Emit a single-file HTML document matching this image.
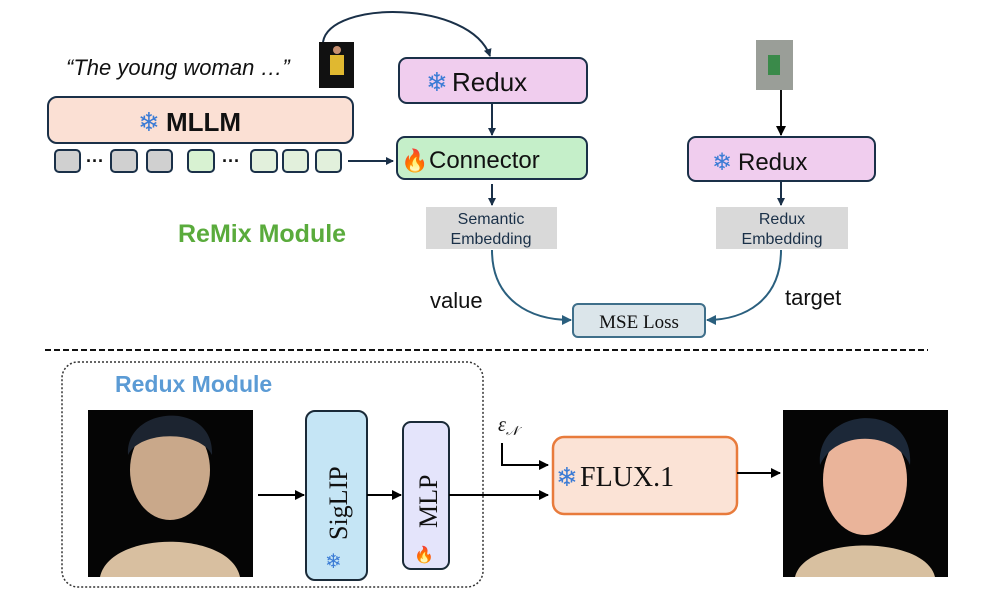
<!DOCTYPE html>
<html><head><style>body{margin:0;background:#fff}svg{display:block}</style></head><body>
<svg width="996" height="598" viewBox="0 0 996 598" xmlns="http://www.w3.org/2000/svg" font-family="Liberation Sans, sans-serif">
<defs>
<marker id="a" markerWidth="8" markerHeight="8" refX="7" refY="4" orient="auto" markerUnits="userSpaceOnUse"><path d="M0,0 L8,4 L0,8 z" fill="#1a3048"/></marker>
<marker id="b" markerWidth="10" markerHeight="10" refX="9" refY="5" orient="auto" markerUnits="userSpaceOnUse"><path d="M0,0 L10,5 L0,10 z" fill="#000"/></marker>
<marker id="c" markerWidth="10" markerHeight="10" refX="9" refY="5" orient="auto" markerUnits="userSpaceOnUse"><path d="M0,0 L10,5 L0,10 z" fill="#2a5f7e"/></marker>
</defs>
<text x="66" y="75" font-size="22" font-style="italic" fill="#111">“The young woman …”</text>
<rect x="319" y="42" width="35" height="46" fill="#111"/><rect x="330" y="55" width="14" height="20" fill="#e0b830"/><circle cx="337" cy="50" r="4" fill="#c89070"/>
<path d="M323,42 C330,0 470,0 490,56" fill="none" stroke="#1a3048" stroke-width="2" marker-end="url(#a)"/>
<rect x="399" y="58" width="188" height="45" rx="8" fill="#f0cdee" stroke="#1a3048" stroke-width="2"/>
<text x="426" y="91" font-size="26" fill="#3a7bd5">❄</text><text x="452" y="91" font-size="26" fill="#111">Redux</text>
<rect x="48" y="97" width="305" height="46" rx="9" fill="#fbe0d4" stroke="#1a3048" stroke-width="2"/>
<text x="138" y="131" font-size="26" fill="#3a7bd5">❄</text><text x="166" y="131" font-size="26" font-weight="bold" fill="#111">MLLM</text>
<g stroke="#1a3048" stroke-width="2">
<rect x="55" y="150" width="25" height="22" rx="4" fill="#d0d0d0"/><rect x="111" y="150" width="26" height="22" rx="4" fill="#d0d0d0"/><rect x="147" y="150" width="25" height="22" rx="4" fill="#d0d0d0"/>
<rect x="188" y="150" width="26" height="22" rx="4" fill="#d8f2d2"/><rect x="251" y="150" width="26" height="22" rx="4" fill="#e2f0dc"/><rect x="283" y="150" width="25" height="22" rx="4" fill="#e2f0dc"/><rect x="316" y="150" width="25" height="22" rx="4" fill="#e2f0dc"/>
</g>
<text x="86" y="167" font-size="18" font-weight="bold" fill="#111">···</text><text x="222" y="167" font-size="18" font-weight="bold" fill="#111">···</text>
<line x1="348" y1="161" x2="393" y2="161" stroke="#1a3048" stroke-width="2" marker-end="url(#a)"/>
<line x1="492" y1="103" x2="492" y2="135" stroke="#1a3048" stroke-width="2" marker-end="url(#a)"/>
<rect x="397" y="137" width="190" height="42" rx="8" fill="#c5efc9" stroke="#1a3048" stroke-width="2"/>
<text x="401" y="168" font-size="22" fill="#f04a10">🔥</text><text x="429" y="168" font-size="24" fill="#111">Connector</text>
<line x1="492" y1="184" x2="492" y2="205" stroke="#1a3048" stroke-width="2" marker-end="url(#a)"/>
<rect x="426" y="207" width="131" height="42" fill="#d9d9d9"/>
<text x="491" y="224" font-size="16" fill="#1a3048" text-anchor="middle">Semantic</text><text x="491" y="244" font-size="16" fill="#1a3048" text-anchor="middle">Embedding</text>
<text x="178" y="242" font-size="25" font-weight="bold" fill="#5aab3c">ReMix Module</text>
<rect x="756" y="40" width="37" height="50" fill="#9a9e98"/><rect x="768" y="55" width="12" height="20" fill="#3a8a4a"/>
<line x1="781" y1="90" x2="781" y2="135" stroke="#111" stroke-width="2" marker-end="url(#b)"/>
<rect x="688" y="137" width="187" height="44" rx="8" fill="#f0cdee" stroke="#1a3048" stroke-width="2"/>
<text x="712" y="170" font-size="24" fill="#3a7bd5">❄</text><text x="738" y="170" font-size="24" fill="#111">Redux</text>
<line x1="781" y1="181" x2="781" y2="205" stroke="#1a3048" stroke-width="2" marker-end="url(#a)"/>
<rect x="716" y="207" width="132" height="42" fill="#d9d9d9"/>
<text x="782" y="224" font-size="16" fill="#1a3048" text-anchor="middle">Redux</text><text x="782" y="244" font-size="16" fill="#1a3048" text-anchor="middle">Embedding</text>
<path d="M492,250 C492,300 530,320 571,320" fill="none" stroke="#2a5f7e" stroke-width="2" marker-end="url(#c)"/>
<path d="M781,250 C781,300 745,320 707,320" fill="none" stroke="#2a5f7e" stroke-width="2" marker-end="url(#c)"/>
<rect x="573" y="304" width="132" height="33" rx="5" fill="#dbe5ea" stroke="#3f6f8a" stroke-width="2"/>
<text x="639" y="328" font-size="19" font-family="Liberation Serif, serif" fill="#111" text-anchor="middle">MSE Loss</text>
<text x="430" y="308" font-size="22" fill="#111">value</text><text x="785" y="305" font-size="22" fill="#111">target</text>
<line x1="45" y1="350" x2="928" y2="350" stroke="#111" stroke-width="2" stroke-dasharray="6,3"/>
<rect x="62" y="362" width="421" height="225" rx="16" fill="none" stroke="#333" stroke-width="1.5" stroke-dasharray="2,2"/>
<text x="115" y="392" font-size="23" font-weight="bold" fill="#5b9bd5">Redux Module</text>
<rect x="88" y="410" width="165" height="167" fill="#050505"/>
<ellipse cx="170" cy="470" rx="40" ry="50" fill="#c9a88a"/><path d="M128,455 C125,405 215,400 212,455 C200,430 140,430 128,455z" fill="#1c2430"/><path d="M100,577 C110,530 230,530 240,577z" fill="#d8bfa0"/>
<rect x="783" y="410" width="165" height="167" fill="#050505"/>
<ellipse cx="865" cy="480" rx="42" ry="55" fill="#eab49a"/><path d="M820,465 C815,405 915,400 910,465 C895,430 835,430 820,465z" fill="#1c2838"/><path d="M795,577 C805,535 925,535 935,577z" fill="#d8c0a0"/>
<line x1="258" y1="495" x2="304" y2="495" stroke="#000" stroke-width="2" marker-end="url(#b)"/>
<rect x="306" y="411" width="61" height="169" rx="9" fill="#c5e5f5" stroke="#1a2a38" stroke-width="2"/>
<text transform="translate(347,540) rotate(-90)" font-size="26" font-family="Liberation Serif, serif" fill="#111">SigLIP</text>
<text x="325" y="568" font-size="20" fill="#3a7bd5">❄</text>
<line x1="367" y1="495" x2="401" y2="495" stroke="#000" stroke-width="2" marker-end="url(#b)"/>
<rect x="403" y="422" width="46" height="147" rx="8" fill="#e4e4fb" stroke="#1a2a38" stroke-width="2"/>
<text transform="translate(437,528) rotate(-90)" font-size="26" font-family="Liberation Serif, serif" fill="#111">MLP</text>
<text x="414" y="560" font-size="16" fill="#f04a10">🔥</text>
<line x1="449" y1="495" x2="548" y2="495" stroke="#000" stroke-width="2" marker-end="url(#b)"/>
<text x="498" y="431" font-size="20" font-style="italic" font-family="Liberation Serif, serif" fill="#111">ε<tspan font-size="13" dy="4">𝒩</tspan></text>
<path d="M502,443 L502,465 L548,465" fill="none" stroke="#000" stroke-width="2" marker-end="url(#b)"/>
<rect x="553" y="437" width="184" height="77" rx="11" fill="#fbe3d6" stroke="#e87b3c" stroke-width="2.5"/>
<text x="556" y="486" font-size="26" fill="#3a7bd5">❄</text><text x="580" y="486" font-size="28" font-family="Liberation Serif, serif" fill="#111">FLUX.1</text>
<line x1="737" y1="473" x2="780" y2="473" stroke="#000" stroke-width="2" marker-end="url(#b)"/>
</svg>
</body></html>
